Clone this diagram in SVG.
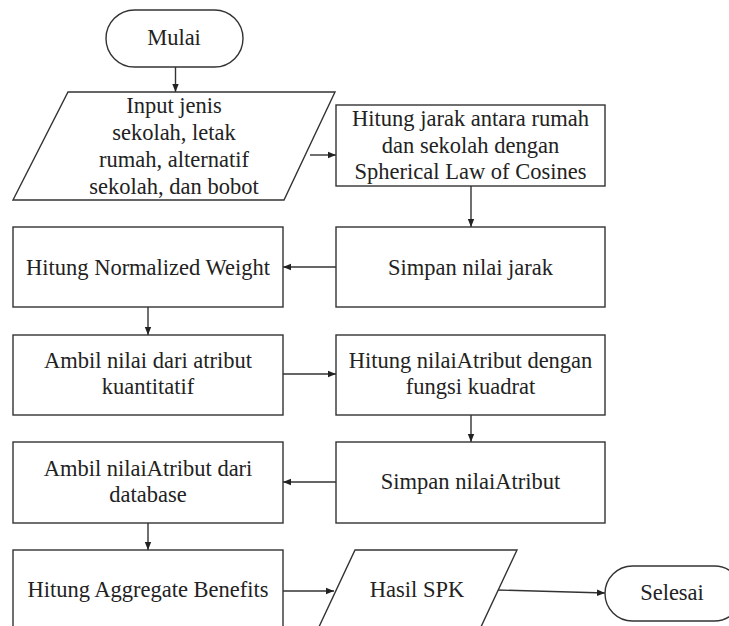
<svg xmlns="http://www.w3.org/2000/svg" width="729" height="626" viewBox="0 0 729 626">
<style>
.s{fill:#fff;stroke:#333;stroke-width:1.4}
.t{font-family:'Liberation Serif',Tinos,'Times New Roman',Times,'DejaVu Serif',serif;font-size:22.5px;fill:#222;text-anchor:middle}
.c{fill:none;stroke:#333;stroke-width:1.4}
</style>
<defs>
<marker id="a" viewBox="0 0 10 10" refX="10" refY="5" markerWidth="8" markerHeight="8" markerUnits="userSpaceOnUse" orient="auto">
<path d="M0,1 L10,5 L0,9 Z" fill="#222"/>
</marker>
</defs>
<rect width="729" height="626" fill="#fff"/>
<g id="connectors">
<line class="c" x1="175.5" y1="67" x2="175.5" y2="92" marker-end="url(#a)"/>
<line class="c" x1="310" y1="155" x2="336" y2="155" marker-end="url(#a)"/>
<line class="c" x1="471" y1="186" x2="471" y2="227" marker-end="url(#a)"/>
<line class="c" x1="336" y1="267" x2="283" y2="267" marker-end="url(#a)"/>
<line class="c" x1="148" y1="307" x2="148" y2="335" marker-end="url(#a)"/>
<line class="c" x1="283" y1="374" x2="336" y2="374" marker-end="url(#a)"/>
<line class="c" x1="471" y1="415" x2="471" y2="442" marker-end="url(#a)"/>
<line class="c" x1="336" y1="482" x2="283" y2="482" marker-end="url(#a)"/>
<line class="c" x1="148" y1="523" x2="148" y2="550" marker-end="url(#a)"/>
<line class="c" x1="283" y1="591" x2="334" y2="591" marker-end="url(#a)"/>
<line class="c" x1="497" y1="590" x2="605" y2="593" marker-end="url(#a)"/>
</g>
<g id="mulai">
<rect class="s" x="106" y="10" width="137" height="57" rx="28.5"/>
<text class="t" x="174" y="45" font-family="Liberation Serif, serif">Mulai</text>
</g>
<g id="input">
<polygon class="s" points="68,92 335,92 284,200 13,200"/>
<text class="t" x="174" y="113">Input jenis</text>
<text class="t" x="174" y="140">sekolah, letak</text>
<text class="t" x="174" y="167">rumah, alternatif</text>
<text class="t" x="174" y="194">sekolah, dan bobot</text>
</g>
<g id="hitung-jarak">
<rect class="s" x="336" y="105" width="269" height="81"/>
<text class="t" x="470.5" y="126">Hitung jarak antara rumah</text>
<text class="t" x="470.5" y="152.5">dan sekolah dengan</text>
<text class="t" x="470.5" y="179">Spherical Law of Cosines</text>
</g>
<g id="simpan-jarak">
<rect class="s" x="336" y="227" width="269" height="80"/>
<text class="t" x="470.5" y="274.5">Simpan nilai jarak</text>
</g>
<g id="normalized">
<rect class="s" x="13" y="227" width="270" height="80"/>
<text class="t" x="148" y="274.5">Hitung Normalized Weight</text>
</g>
<g id="ambil-nilai">
<rect class="s" x="13" y="335" width="270" height="80"/>
<text class="t" x="148" y="368">Ambil nilai dari atribut</text>
<text class="t" x="148" y="394">kuantitatif</text>
</g>
<g id="hitung-atribut">
<rect class="s" x="336" y="335" width="269" height="80"/>
<text class="t" x="470.5" y="368">Hitung nilaiAtribut dengan</text>
<text class="t" x="470.5" y="394">fungsi kuadrat</text>
</g>
<g id="simpan-atribut">
<rect class="s" x="336" y="442" width="269" height="81"/>
<text class="t" x="470.5" y="489">Simpan nilaiAtribut</text>
</g>
<g id="ambil-database">
<rect class="s" x="13" y="442" width="270" height="81"/>
<text class="t" x="148" y="475.5">Ambil nilaiAtribut dari</text>
<text class="t" x="148" y="502">database</text>
</g>
<g id="aggregate">
<rect class="s" x="13" y="550" width="270" height="90"/>
<text class="t" x="148" y="597">Hitung Aggregate Benefits</text>
</g>
<g id="hasil">
<polygon class="s" points="355,550 517,550 472,646 310,646"/>
<text class="t" x="417" y="597">Hasil SPK</text>
</g>
<g id="selesai">
<rect class="s" x="605" y="566" width="137" height="55" rx="27.5"/>
<text class="t" x="672" y="600">Selesai</text>
</g>
</svg>
